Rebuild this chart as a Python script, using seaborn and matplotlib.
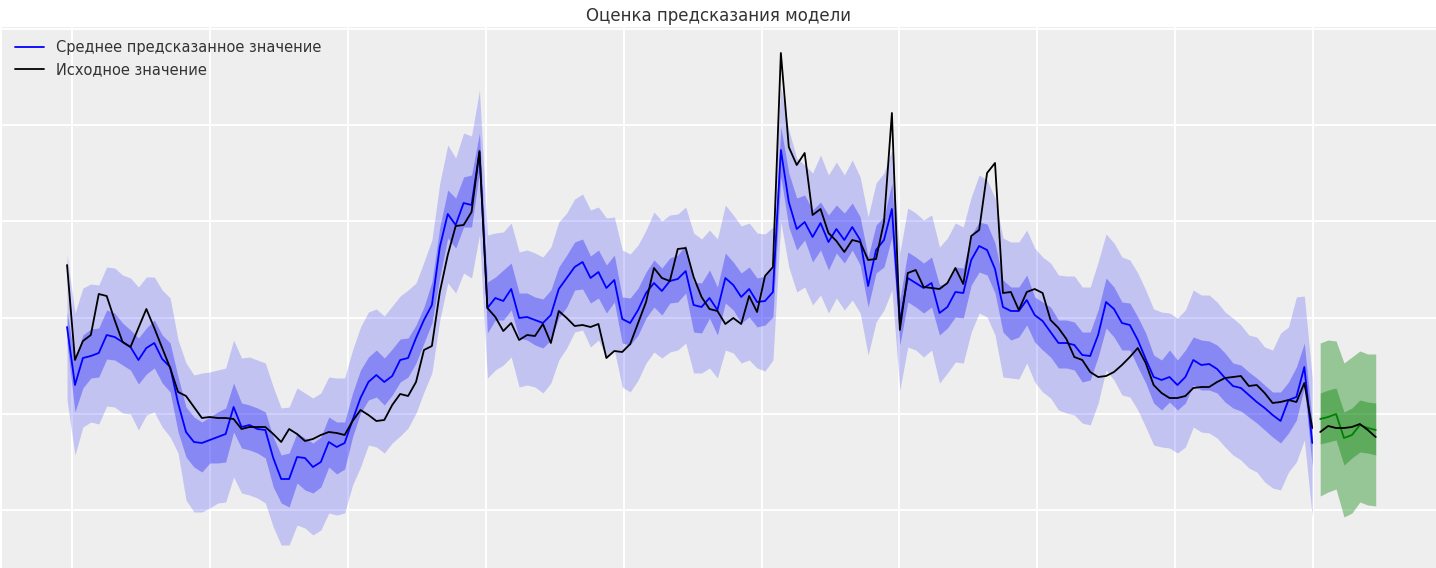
import numpy as np
import pandas as pd
import matplotlib
matplotlib.use("Agg")
import matplotlib.pyplot as plt
import seaborn as sns

# === Data (weekly index, arbitrary units) ===
mean_vals = [
    273, 215, 242, 244, 247, 265, 263, 258, 253, 240, 252, 257, 241, 233, 197, 168, 158, 157, 160, 163,
    166, 193, 173, 175, 171, 170, 142, 121, 121, 143, 142, 133, 138, 158, 153, 157, 180, 202, 218, 225,
    218, 224, 240, 242, 262, 280, 295, 353, 386, 375, 397, 395, 448, 292, 302, 299, 311, 282, 283, 280,
    277, 285, 311, 322, 333, 338, 322, 328, 312, 320, 281, 277, 290, 307, 317, 309, 319, 321, 329, 295,
    293, 302, 290, 322, 315, 303, 311, 298, 299, 308, 450, 398, 371, 378, 363, 377, 358, 371, 360, 373,
    360, 314, 350, 360, 391, 278, 322, 317, 312, 317, 287, 293, 308, 307, 340, 354, 350, 331, 293, 289,
    289, 300, 285, 279, 268, 257, 257, 255, 245, 244, 265, 298, 291, 277, 275, 260, 241, 223, 220, 223,
    215, 223, 240, 235, 236, 231, 222, 214, 212, 205, 198, 192, 185, 179, 200, 203, 233, 157,
]
obs_vals = [
    335, 240, 259, 265, 306, 304, 280, 258, 253, 272, 291, 272, 252, 232, 208, 204, 193, 182, 183, 182,
    182, 181, 171, 173, 173, 173, 166, 158, 171, 166, 159, 161, 165, 168, 167, 165, 179, 190, 185, 179,
    180, 195, 206, 204, 218, 250, 254, 308, 345, 374, 375, 388, 449, 292, 283, 269, 277, 260, 265, 264,
    276, 257, 289, 282, 274, 275, 273, 276, 242, 249, 248, 256, 277, 298, 332, 322, 319, 351, 352, 323,
    303, 291, 289, 276, 282, 276, 304, 288, 324, 333, 547, 453, 435, 447, 385, 391, 367, 359, 348, 360,
    358, 340, 341, 378, 487, 270, 327, 330, 313, 312, 311, 317, 332, 316, 364, 370, 427, 437, 307, 308,
    290, 308, 311, 307, 280, 272, 261, 243, 240, 228, 223, 224, 228, 235, 243, 252, 237, 215, 207, 202,
    202, 204, 212, 213, 213, 218, 222, 223, 224, 214, 215, 207, 197, 198, 200, 198, 217, 172,
]
inner_hi = [
    288, 240, 265, 271, 272, 290, 287, 277, 270, 262, 272, 280, 265, 257, 223, 193, 183, 178, 183, 188,
    192, 217, 197, 195, 192, 188, 163, 145, 147, 167, 162, 157, 163, 183, 178, 178, 207, 230, 243, 250,
    242, 251, 261, 262, 275, 293, 318, 373, 410, 402, 423, 425, 467, 318, 323, 330, 337, 307, 307, 303,
    301, 310, 333, 345, 358, 361, 344, 350, 335, 345, 303, 302, 312, 328, 340, 332, 342, 345, 355, 318,
    317, 330, 313, 347, 338, 327, 333, 322, 324, 333, 473, 427, 402, 405, 390, 398, 385, 395, 387, 397,
    383, 343, 375, 383, 417, 300, 348, 343, 337, 343, 315, 317, 333, 332, 365, 378, 376, 357, 320, 313,
    313, 325, 303, 298, 293, 280, 280, 278, 268, 268, 290, 322, 313, 298, 297, 283, 267, 245, 240, 250,
    240, 250, 263, 260, 259, 255, 247, 237, 235, 228, 222, 215, 208, 208, 218, 233, 257, 177,
]
inner_lo = [
    257, 188, 212, 222, 223, 241, 240, 235, 230, 216, 226, 232, 217, 208, 168, 143, 133, 128, 137, 137,
    138, 168, 152, 150, 147, 142, 113, 97, 93, 117, 110, 107, 113, 133, 126, 131, 163, 187, 200, 203,
    195, 205, 218, 223, 237, 257, 277, 323, 362, 352, 373, 373, 428, 267, 280, 280, 290, 262, 260, 255,
    252, 260, 282, 293, 310, 311, 297, 302, 287, 298, 257, 255, 265, 282, 293, 285, 297, 298, 307, 268,
    267, 282, 265, 297, 290, 277, 283, 273, 275, 283, 423, 373, 350, 360, 338, 350, 330, 347, 337, 350,
    335, 293, 327, 333, 363, 255, 298, 293, 287, 293, 265, 272, 283, 282, 315, 328, 325, 307, 268, 260,
    263, 275, 258, 250, 243, 232, 232, 230, 218, 220, 243, 272, 263, 250, 250, 233, 217, 197, 190, 198,
    190, 197, 215, 210, 210, 207, 198, 192, 189, 183, 177, 170, 163, 157, 167, 180, 213, 133,
]
outer_hi = [
    345, 287, 312, 316, 315, 333, 332, 325, 322, 313, 323, 323, 310, 302, 260, 237, 225, 227, 228, 230,
    232, 260, 242, 243, 240, 237, 213, 192, 193, 212, 207, 202, 207, 223, 222, 222, 250, 273, 288, 291,
    284, 294, 304, 310, 317, 338, 360, 417, 455, 442, 467, 464, 510, 365, 367, 368, 377, 348, 350, 347,
    343, 353, 378, 387, 401, 406, 390, 393, 382, 383, 350, 346, 355, 370, 388, 379, 385, 386, 393, 367,
    361, 370, 361, 395, 385, 374, 377, 367, 366, 373, 513, 470, 442, 435, 427, 445, 425, 438, 425, 440,
    423, 383, 417, 427, 450, 347, 392, 387, 380, 385, 353, 362, 377, 373, 403, 425, 420, 402, 362, 358,
    358, 370, 352, 343, 337, 325, 324, 324, 313, 313, 338, 366, 357, 343, 340, 327, 310, 291, 288, 287,
    282, 290, 310, 305, 305, 298, 288, 282, 275, 265, 263, 253, 250, 267, 273, 303, 304, 222,
]
outer_lo = [
    200, 145, 173, 178, 176, 194, 193, 187, 186, 170, 185, 188, 173, 163, 147, 100, 88, 88, 92, 97,
    98, 123, 107, 105, 102, 97, 73, 55, 55, 75, 72, 65, 70, 87, 85, 87, 115, 133, 155, 153,
    147, 157, 164, 172, 187, 208, 227, 280, 317, 307, 327, 322, 365, 222, 230, 235, 243, 213, 215, 213,
    207, 217, 240, 252, 268, 270, 253, 260, 243, 250, 213, 208, 220, 237, 248, 242, 248, 250, 257, 227,
    227, 232, 222, 250, 247, 237, 240, 232, 229, 240, 378, 333, 308, 313, 295, 305, 287, 302, 290, 300,
    287, 245, 278, 290, 310, 210, 253, 250, 243, 250, 217, 227, 238, 237, 268, 287, 283, 265, 223, 222,
    221, 237, 218, 208, 202, 190, 187, 185, 177, 175, 197, 230, 220, 205, 203, 190, 173, 155, 153, 152,
    147, 153, 173, 168, 167, 162, 153, 145, 140, 132, 128, 118, 112, 110, 128, 138, 160, 83,
]

# === Forecast (last 8 weeks) ===
fc_mean = [181, 183, 186, 162, 165, 175, 172, 170]
fc_obs = [168, 174, 172, 172, 173, 176, 170, 163]
fc_inner_hi = [207, 210, 212, 188, 192, 200, 198, 197]
fc_inner_lo = [156, 158, 160, 135, 142, 148, 147, 145]
fc_outer_hi = [257, 260, 259, 237, 243, 249, 246, 246]
fc_outer_lo = [104, 108, 111, 83, 87, 98, 95, 94]

TITLE = "Оценка предсказания модели"
LABEL_MEAN = "Среднее предсказанное значение"
LABEL_OBS = "Исходное значение"


def main():
    sns.set_theme(style="darkgrid", rc={
        "axes.facecolor": "#eeeeee",
        "grid.color": "white",
        "grid.linewidth": 1.4,
    })
    plt.rcParams["font.family"] = ["DejaVu Sans"]

    n_train = len(mean_vals)
    df = pd.DataFrame({
        "week": np.arange(n_train),
        "mean": mean_vals,
        "obs": obs_vals,
        "in_lo": inner_lo, "in_hi": inner_hi,
        "out_lo": outer_lo, "out_hi": outer_hi,
    })
    df_fc = pd.DataFrame({
        "week": np.arange(n_train, n_train + len(fc_mean)),
        "mean": fc_mean,
        "obs": fc_obs,
        "in_lo": fc_inner_lo, "in_hi": fc_inner_hi,
        "out_lo": fc_outer_lo, "out_hi": fc_outer_hi,
    })

    fig = plt.figure(figsize=(14.36, 5.68), dpi=100)
    ax = fig.add_axes([2 / 1436, 0, 1 - 2 / 1436, 541 / 568])

    # === Credible bands ===
    ax.fill_between(df["week"], df["out_lo"], df["out_hi"], color="blue", alpha=0.18, linewidth=0)
    ax.fill_between(df["week"], df["in_lo"], df["in_hi"], color="blue", alpha=0.3, linewidth=0)
    ax.fill_between(df_fc["week"], df_fc["out_lo"], df_fc["out_hi"], color="green", alpha=0.37, linewidth=0)
    ax.fill_between(df_fc["week"], df_fc["in_lo"], df_fc["in_hi"], color="green", alpha=0.37, linewidth=0)

    # === Lines ===
    sns.lineplot(data=df, x="week", y="mean", color="blue", linewidth=1.3, ax=ax)
    sns.lineplot(data=df, x="week", y="obs", color="black", linewidth=1.3, ax=ax)
    sns.lineplot(data=df_fc, x="week", y="mean", color="green", linewidth=1.3, ax=ax)
    sns.lineplot(data=df_fc, x="week", y="obs", color="black", linewidth=1.3, ax=ax)

    # === Axes styling (ticks first, then limits so they are not widened) ===
    ax.set_xticks(np.arange(0.67, 172, 17.38))
    ax.set_yticks(np.arange(90, 572, 96.25))
    ax.set_xlim(-8.2, 172.6)
    ax.set_ylim(32, 573)
    ax.set_xticklabels([])
    ax.set_yticklabels([])
    ax.set_xlabel("")
    ax.set_ylabel("")
    ax.tick_params(length=0)
    for s in ax.spines.values():
        s.set_visible(False)

    ax.set_title(TITLE, fontsize=12, color="#333333", pad=4)

    handles = [
        plt.Line2D([], [], color="blue", linewidth=1.3),
        plt.Line2D([], [], color="black", linewidth=1.3),
    ]
    ax.legend(handles, [LABEL_MEAN, LABEL_OBS], loc="upper left", frameon=False,
              fontsize=10.5, labelcolor="#333333")

    fig.savefig("out.png", dpi=100)
    plt.close(fig)


if __name__ == "__main__":
    main()
